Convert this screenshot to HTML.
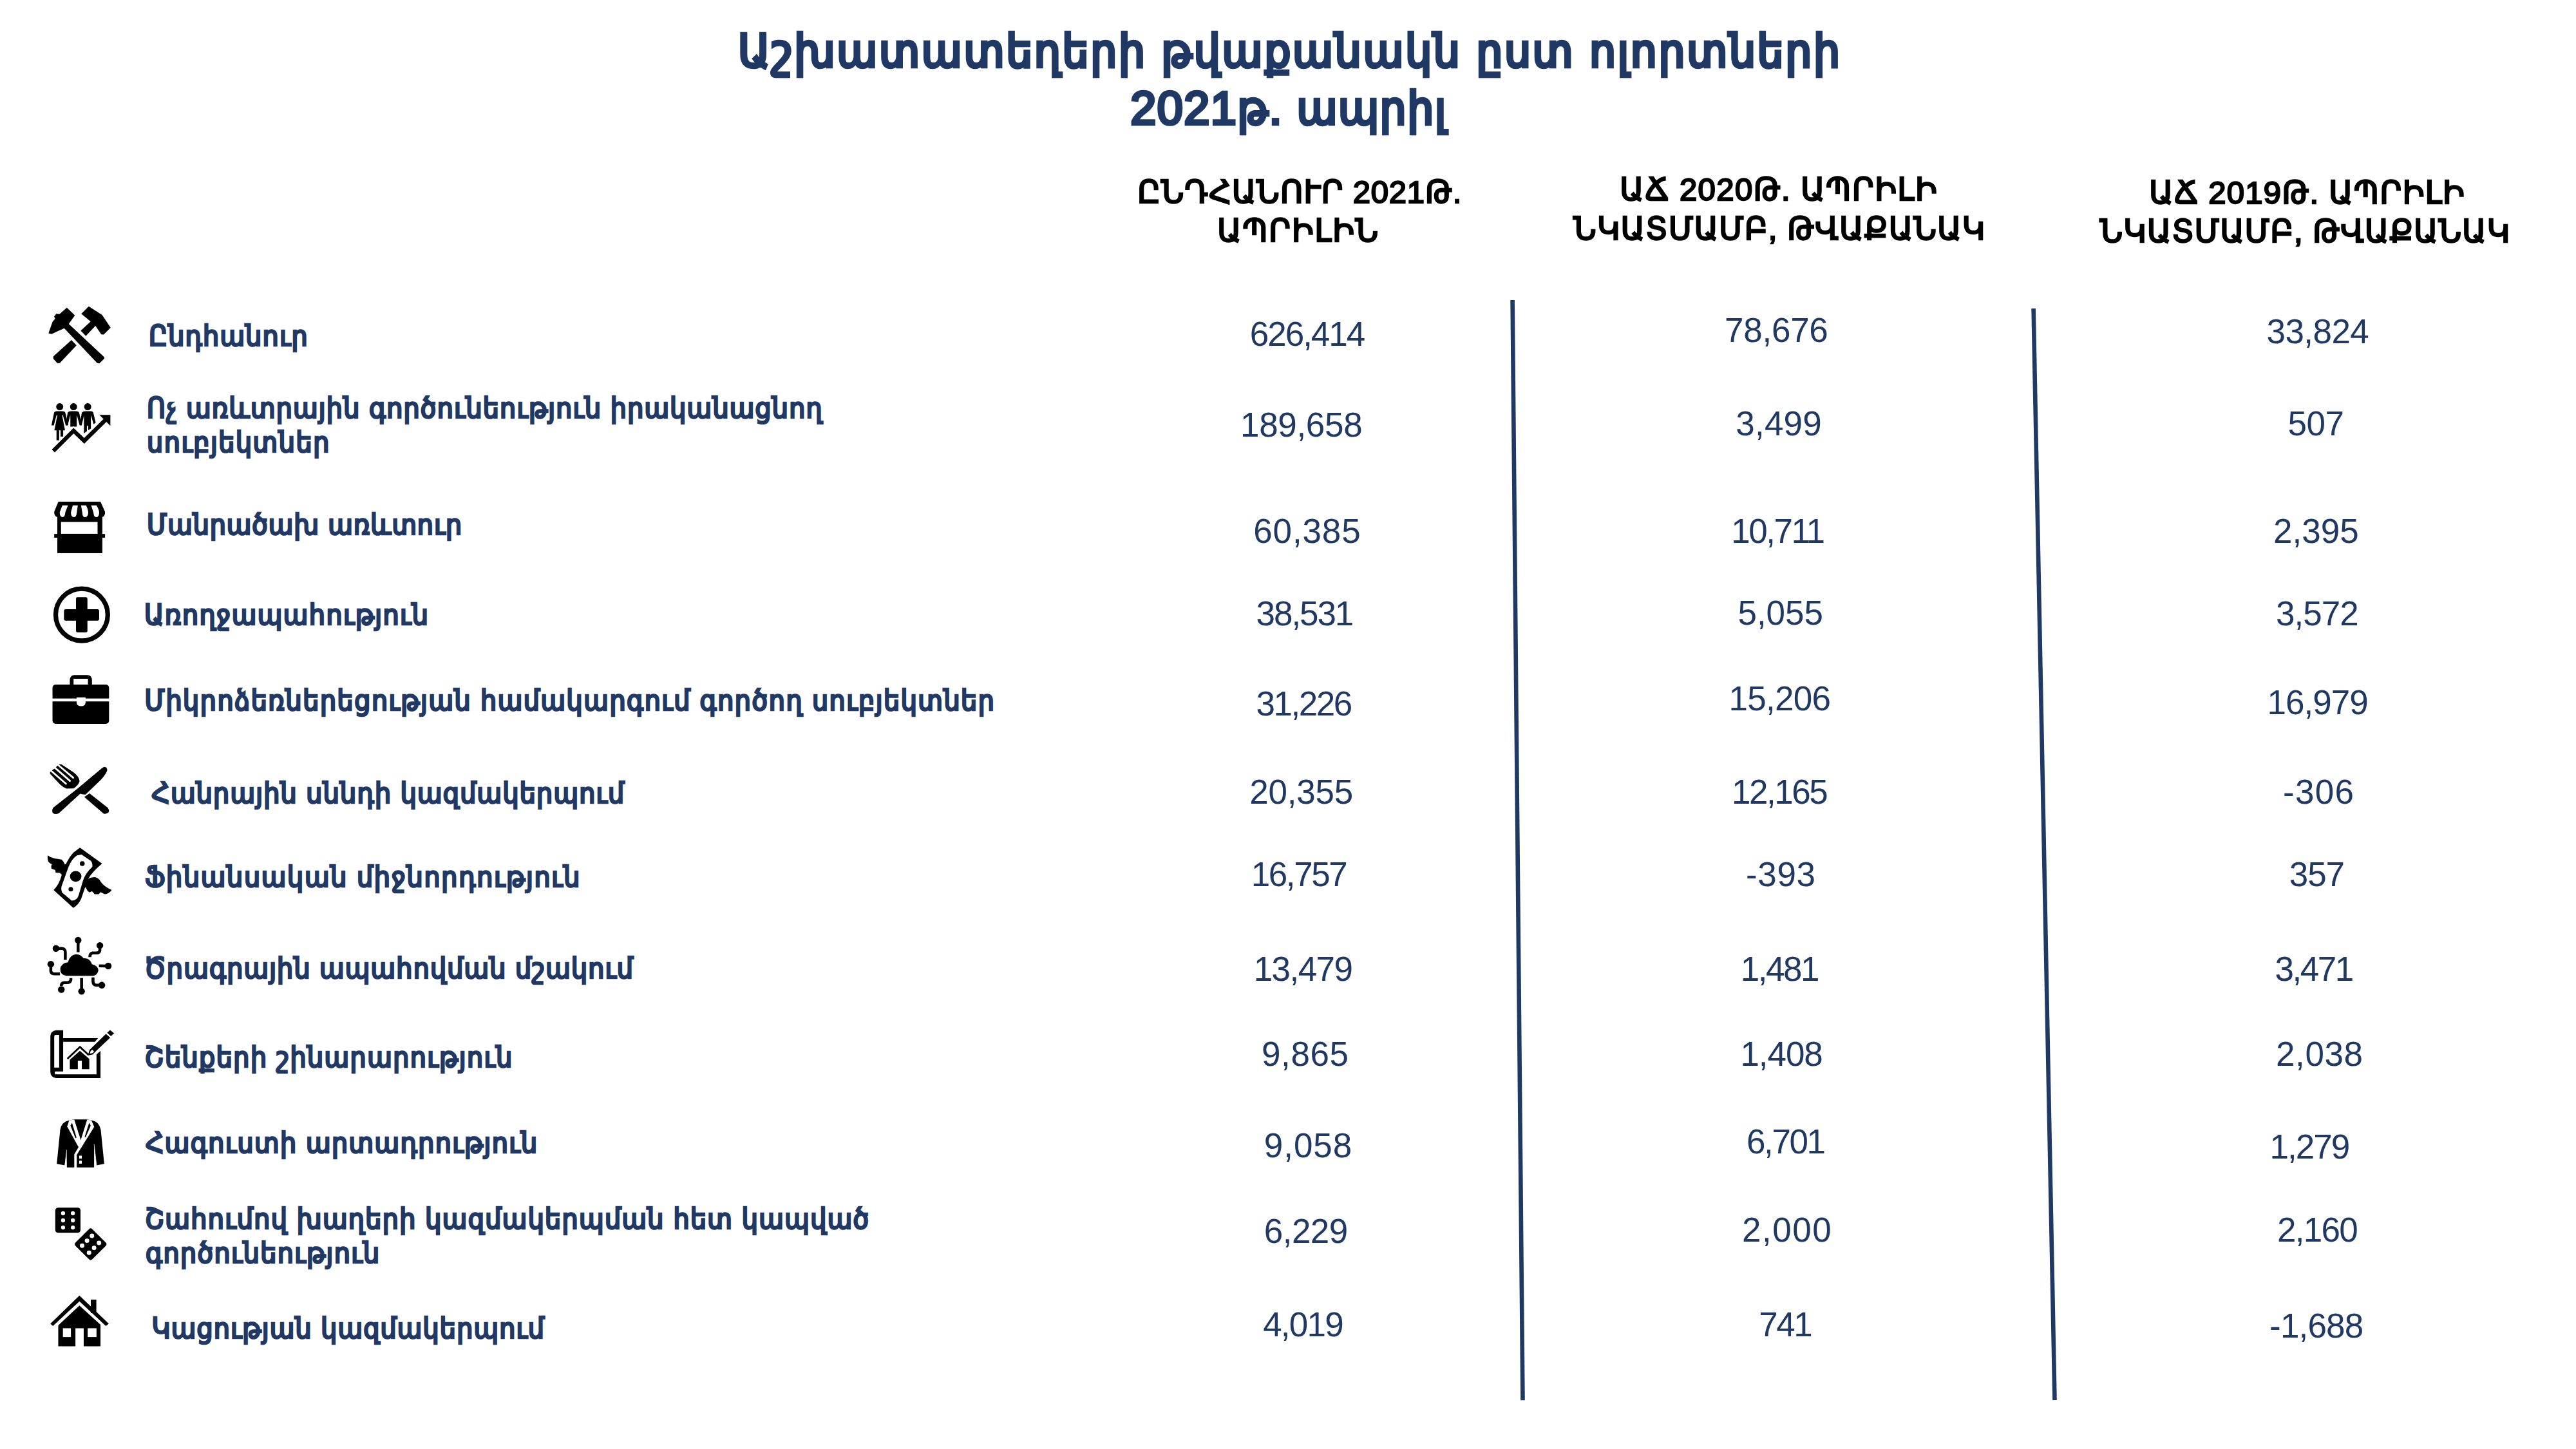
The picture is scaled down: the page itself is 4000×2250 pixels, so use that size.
<!DOCTYPE html>
<html lang="hy">
<head>
<meta charset="utf-8">
<title>Աշխատատեղերի թվաքանակն ըստ ոլորտների</title>
<style>
html,body{margin:0;padding:0;background:#fff}
body{width:4000px;height:2250px;position:relative;overflow:hidden;
 font-family:"Liberation Sans","DejaVu Sans",sans-serif}
.t{position:absolute;white-space:nowrap;margin:0;padding:0}
.title{font-family:"Liberation Sans","DejaVu Sans Condensed","DejaVu Sans",sans-serif;font-stretch:condensed;
 font-weight:normal;-webkit-text-stroke:4.6px #1f3864;font-size:72px;line-height:88px;color:#1f3864}
.lbl{font-family:"Liberation Sans","DejaVu Sans Condensed","DejaVu Sans",sans-serif;font-stretch:condensed;
 font-weight:normal;-webkit-text-stroke:2.7px #1f3864;font-size:44px;line-height:53px;color:#1f3864}
.hdr{font-weight:normal;-webkit-text-stroke:2.3px #000;font-size:49px;line-height:60px;color:#000}
.num{font-size:53px;line-height:60px;color:#1f3864}
svg{position:absolute;left:0;top:0}
</style>
</head>
<body>
<h1 class="t title" style="left:1146.0px;top:34.8px;letter-spacing:2.63px">Աշխատատեղերի թվաքանակն ըստ ոլորտների</h1>
<h2 class="t title" style="left:1755.2px;top:124.1px;letter-spacing:1.47px">2021թ. ապրիլ</h2>
<div class="t hdr" style="left:1766.0px;top:268.4px;letter-spacing:0.80px">ԸՆԴՀԱՆՈՒՐ 2021Թ.</div>
<div class="t hdr" style="left:1890.0px;top:327.9px;letter-spacing:1.67px">ԱՊՐԻԼԻՆ</div>
<div class="t hdr" style="left:2515.0px;top:263.9px;letter-spacing:1.40px">ԱՃ 2020Թ. ԱՊՐԻԼԻ</div>
<div class="t hdr" style="left:2442.9px;top:324.7px;letter-spacing:1.02px">ՆԿԱՏՄԱՄԲ, ԹՎԱՔԱՆԱԿ</div>
<div class="t hdr" style="left:3337.0px;top:268.8px;letter-spacing:1.20px">ԱՃ 2019Թ. ԱՊՐԻԼԻ</div>
<div class="t hdr" style="left:3260.4px;top:329.3px;letter-spacing:0.87px">ՆԿԱՏՄԱՄԲ, ԹՎԱՔԱՆԱԿ</div>
<div class="t lbl" style="left:231.0px;top:494.9px;letter-spacing:1.25px">Ընդհանուր</div>
<div class="t lbl" style="left:228.0px;top:607.4px;letter-spacing:1.23px">Ոչ առևտրային գործունեություն իրականացնող</div>
<div class="t lbl" style="left:228.0px;top:660.4px;letter-spacing:1.60px">սուբյեկտներ</div>
<div class="t lbl" style="left:228.0px;top:788.4px;letter-spacing:0.93px">Մանրածախ առևտուր</div>
<div class="t lbl" style="left:224.0px;top:928.2px;letter-spacing:1.47px">Առողջապահություն</div>
<div class="t lbl" style="left:224.5px;top:1060.9px;letter-spacing:1.57px">Միկրոձեռներեցության համակարգում գործող սուբյեկտներ</div>
<div class="t lbl" style="left:235.3px;top:1205.4px;letter-spacing:1.25px">Հանրային սննդի կազմակերպում</div>
<div class="t lbl" style="left:225.0px;top:1334.9px;letter-spacing:1.75px">Ֆինանսական միջնորդություն</div>
<div class="t lbl" style="left:223.5px;top:1476.9px;letter-spacing:1.19px">Ծրագրային ապահովման մշակում</div>
<div class="t lbl" style="left:224.5px;top:1614.6px;letter-spacing:1.48px">Շենքերի շինարարություն</div>
<div class="t lbl" style="left:226.0px;top:1747.9px;letter-spacing:1.43px">Հագուստի արտադրություն</div>
<div class="t lbl" style="left:225.0px;top:1865.9px;letter-spacing:1.37px">Շահումով խաղերի կազմակերպման հետ կապված</div>
<div class="t lbl" style="left:226.0px;top:1919.4px;letter-spacing:1.43px">գործունեություն</div>
<div class="t lbl" style="left:235.5px;top:2035.9px;letter-spacing:1.19px">Կացության կազմակերպում</div>
<div class="t num" style="left:1940.8px;top:489.4px;letter-spacing:-2.03px">626,414</div>
<div class="t num" style="left:2678.1px;top:482.9px;letter-spacing:-0.28px">78,676</div>
<div class="t num" style="left:3519.5px;top:485.3px;letter-spacing:-0.56px">33,824</div>
<div class="t num" style="left:1926.0px;top:629.6px;letter-spacing:-0.33px">189,658</div>
<div class="t num" style="left:2695.3px;top:628.0px;letter-spacing:0.20px">3,499</div>
<div class="t num" style="left:3552.5px;top:628.0px;letter-spacing:-0.50px">507</div>
<div class="t num" style="left:1946.2px;top:795.1px;letter-spacing:0.88px">60,385</div>
<div class="t num" style="left:2688.3px;top:795.1px;letter-spacing:-2.50px">10,711</div>
<div class="t num" style="left:3530.0px;top:795.1px">2,395</div>
<div class="t num" style="left:1950.6px;top:923.1px;letter-spacing:-2.08px">38,531</div>
<div class="t num" style="left:2698.5px;top:921.5px;letter-spacing:-0.05px">5,055</div>
<div class="t num" style="left:3534.0px;top:923.1px;letter-spacing:-1.00px">3,572</div>
<div class="t num" style="left:1950.5px;top:1063.3px;letter-spacing:-2.50px">31,226</div>
<div class="t num" style="left:2684.4px;top:1055.2px;letter-spacing:-0.72px">15,206</div>
<div class="t num" style="left:3520.5px;top:1060.9px;letter-spacing:-1.00px">16,979</div>
<div class="t num" style="left:1940.3px;top:1199.5px;letter-spacing:-0.24px">20,355</div>
<div class="t num" style="left:2689.0px;top:1199.5px;letter-spacing:-2.50px">12,165</div>
<div class="t num" style="left:3545.0px;top:1199.5px;letter-spacing:1.33px">-306</div>
<div class="t num" style="left:1942.8px;top:1327.5px;letter-spacing:-2.44px">16,757</div>
<div class="t num" style="left:2711.0px;top:1327.5px;letter-spacing:0.67px">-393</div>
<div class="t num" style="left:3554.8px;top:1327.5px;letter-spacing:-1.10px">357</div>
<div class="t num" style="left:1946.7px;top:1475.0px;letter-spacing:-1.56px">13,479</div>
<div class="t num" style="left:2702.8px;top:1475.0px;letter-spacing:-2.50px">1,481</div>
<div class="t num" style="left:3532.5px;top:1475.0px;letter-spacing:-2.50px">3,471</div>
<div class="t num" style="left:1959.0px;top:1607.0px;letter-spacing:0.60px">9,865</div>
<div class="t num" style="left:2702.4px;top:1607.0px;letter-spacing:-1.05px">1,408</div>
<div class="t num" style="left:3534.0px;top:1607.0px;letter-spacing:0.60px">2,038</div>
<div class="t num" style="left:1962.8px;top:1748.9px;letter-spacing:0.95px">9,058</div>
<div class="t num" style="left:2712.0px;top:1743.2px;letter-spacing:-2.40px">6,701</div>
<div class="t num" style="left:3524.5px;top:1751.3px;letter-spacing:-1.95px">1,279</div>
<div class="t num" style="left:1962.8px;top:1881.6px;letter-spacing:-0.55px">6,229</div>
<div class="t num" style="left:2705.1px;top:1880.1px;letter-spacing:1.50px">2,000</div>
<div class="t num" style="left:3536.1px;top:1880.1px;letter-spacing:-1.75px">2,160</div>
<div class="t num" style="left:1961.2px;top:2026.9px;letter-spacing:-1.80px">4,019</div>
<div class="t num" style="left:2731.2px;top:2026.9px;letter-spacing:-2.50px">741</div>
<div class="t num" style="left:3524.1px;top:2028.5px;letter-spacing:-0.84px">-1,688</div>
<svg width="4000" height="2250" viewBox="0 0 4000 2250">
<line x1="2348.6" y1="466" x2="2364.5" y2="2174.3" stroke="#1f3864" stroke-width="6.6"/>
<line x1="3157.6" y1="479" x2="3190.5" y2="2174" stroke="#1f3864" stroke-width="6.6"/>
<!-- icon 1: crossed hammers -->
<g transform="translate(60,460) scale(0.0828)" fill="#000">
<path d="M530,215 L680,360 L565,520 L1230,1140 L1230,1170 L1140,1260 L1100,1255 L480,600 L240,710 L185,695 L260,480 L310,420 L290,380 L330,330 L390,335 Z"/>
<path d="M940,190 L1190,350 L1350,590 L1220,720 L1175,715 L1065,555 L885,745 L790,645 L975,475 L800,330 Z"/>
<path d="M615,820 L710,920 L400,1250 L355,1258 L275,1170 L275,1130 Z"/>
</g>
<!-- icon 2: people with growth arrow -->
<g transform="translate(60,610) scale(0.0828)" fill="#000">
<circle cx="395" cy="260" r="66"/><circle cx="655" cy="260" r="66"/><circle cx="920" cy="260" r="66"/>
<path d="M290,370 Q300,345 340,345 L450,345 Q490,345 500,370 L555,600 L510,615 L455,420 L440,420 L495,705 L295,705 L350,420 L335,420 L285,610 L240,610 Z"/>
<rect x="335" y="700" width="50" height="190"/><rect x="410" y="700" width="50" height="120"/>
<path d="M545,370 Q560,345 600,345 L710,345 Q745,345 760,370 L810,600 L770,612 L720,430 L715,430 L715,635 L595,635 L595,430 L590,430 L545,612 L505,600 Z"/>
<path d="M810,370 Q835,345 870,345 L980,345 Q1015,345 1025,370 L1070,560 L1030,590 L985,430 L980,430 L980,670 L930,700 L930,620 L905,620 L905,720 L850,760 L850,430 L805,612 L770,600 Z"/>
<path d="M275,1090 L655,710 L855,900 L1260,500" fill="none" stroke="#fff" stroke-width="120"/>
<path d="M275,1090 L655,710 L855,900 L1260,500" fill="none" stroke="#000" stroke-width="76"/>
<path d="M1140,415 L1345,415 L1345,620 Z"/>
</g>
<!-- icon 3: market stall -->
<g transform="translate(60,760) scale(0.0828)" fill="#000">
<path d="M370,230 L1160,230 L1245,420 Q1250,500 1190,520 L350,520 Q290,500 292,420 Z"/>
<rect x="350" y="515" width="845" height="680"/>
<rect x="292" y="835" width="953" height="70"/>
<g fill="#fff">
<path d="M445,300 L550,300 L500,430 Q495,520 450,520 Q395,520 395,430 Z"/>
<path d="M640,300 L735,300 L715,440 Q710,520 660,520 Q605,520 605,430 Z"/>
<path d="M795,300 L890,300 Q930,380 930,440 Q925,520 870,520 Q820,520 820,440 Z"/>
<path d="M985,300 L1085,300 Q1135,380 1135,440 Q1130,520 1085,520 Q1030,520 1030,440 Z"/>
<rect x="420" y="610" width="685" height="222"/>
</g>
</g>
<!-- icon 4: medical cross -->
<g transform="translate(60,890) scale(0.0828)" fill="#000">
<circle cx="808" cy="780" r="488" fill="none" stroke="#000" stroke-width="88"/>
<rect x="700" y="450" width="215" height="660" rx="32"/>
<rect x="475" y="675" width="660" height="215" rx="32"/>
</g>
<!-- icon 5: briefcase -->
<g transform="translate(60,1025) scale(0.0828)" fill="#000">
<path d="M585,470 L585,370 Q590,285 670,280 L915,280 Q995,285 1000,370 L1000,470 L925,470 L925,350 L655,350 L655,470 Z"/>
<rect x="260" y="460" width="1060" height="735" rx="60"/>
<rect x="250" y="720" width="1080" height="55" fill="#fff"/>
<path d="M712,700 L880,700 L880,800 Q870,865 800,865 Q720,865 712,800 Z" fill="#fff"/>
</g>
<!-- icon 6: fork and knife -->
<g transform="translate(60,1165) scale(0.0828)" fill="#000">
<path d="M390,262 L430,265 L650,410 Q760,490 768,580 Q750,650 660,715 L520,718 Q450,690 400,640 L215,440 L215,412 L250,380 L262,368 L320,325 L335,308 Z"/>
<path d="M225,378 L512,628 M298,322 L588,575 M360,272 L648,515" stroke="#fff" stroke-width="34" stroke-linecap="round" fill="none"/>
<path d="M955,810 L1300,1080 Q1330,1120 1315,1160 Q1280,1200 1220,1190 L855,875 Z"/>
<path d="M1240,310 Q1290,320 1285,380 Q1250,480 1100,620 L880,830 Q830,830 780,815 L380,1180 Q320,1210 270,1180 Q235,1130 275,1075 L730,720 L1180,340 Q1210,315 1240,310 Z" stroke="#fff" stroke-width="40"/>
<path d="M1240,310 Q1290,320 1285,380 Q1250,480 1100,620 L880,830 Q830,830 780,815 L380,1180 Q320,1210 270,1180 Q235,1130 275,1075 L730,720 L1180,340 Q1210,315 1240,310 Z"/>
</g>
<!-- icon 7: flying money -->
<g transform="translate(60,1300) scale(0.0828)" fill="#000">
<path d="M170,340 Q220,380 300,400 L430,420 Q480,460 490,510 L520,500 L520,700 L440,710 L400,670 L320,665 L310,615 L240,590 L235,540 L250,510 L190,470 Q160,420 170,340 Z"/>
<path d="M920,790 Q980,750 1060,750 Q1130,770 1160,830 Q1230,930 1370,990 Q1320,1060 1240,1070 L1160,1030 L1130,1070 L1050,1070 L1000,1010 L960,1035 L920,1010 L880,940 L850,950 L850,850 Z"/>
<path d="M775,195 L1190,495 Q1000,650 920,800 Q850,1000 800,1150 Q740,1280 650,1325 L280,990 Q380,900 430,720 Q520,430 650,290 Z"/>
<path d="M805,325 L980,445 Q1020,500 1005,560 Q880,670 830,820 L750,1090 Q720,1190 620,1190 L440,1040 Q410,960 440,890 L560,560 Q620,400 720,340 Z" fill="#fff"/>
<ellipse cx="695" cy="735" rx="108" ry="100"/>
<circle cx="818" cy="495" r="46"/><circle cx="603" cy="975" r="43"/>
</g>
<!-- icon 8: cloud network -->
<g transform="translate(60,1440) scale(0.0828)" fill="#000">
<path d="M520,910 Q400,890 405,780 Q420,670 550,655 Q580,520 700,505 Q800,510 840,580 Q960,570 1000,690 Q1120,720 1120,810 Q1100,900 1020,910 Z"/>
<g fill="none" stroke="#000" stroke-width="55">
<path d="M740,290 L740,465"/>
<path d="M1148,390 L1148,430 Q1140,480 1090,480 L1010,480 Q960,490 960,560"/>
<path d="M1130,722 L1260,725"/>
<path d="M1020,940 L1020,1020 Q1025,1080 1080,1085 L1140,1085"/>
<path d="M805,950 L805,1150"/>
<path d="M605,950 L605,980 Q595,1035 540,1035 L480,1035 Q425,1040 425,1100"/>
<path d="M228,740 L228,820 Q235,870 290,872 L400,872"/>
<path d="M375,395 L440,395 Q495,400 500,460 L500,610"/>
</g>
<circle cx="740" cy="240" r="63"/><circle cx="1148" cy="340" r="63"/><circle cx="1305" cy="725" r="63"/><circle cx="1185" cy="1085" r="63"/>
<circle cx="805" cy="1200" r="63"/><circle cx="425" cy="1165" r="63"/><circle cx="228" cy="690" r="63"/><circle cx="325" cy="395" r="63"/>
</g>
<!-- icon 9: blueprint -->
<g transform="translate(60,1580) scale(0.0828)" fill="#000">
<path d="M330,240 L460,240 L460,1010 L310,1010 Q290,1040 315,1065 L1085,1065 L1085,690 L1160,625 L1160,1135 L330,1135 Q220,1120 220,1020 L220,350 Q225,250 330,240 Z"/>
<path d="M292,350 Q295,325 320,325 L385,325 L385,940 L292,940 Z" fill="#fff"/>
<path d="M460,385 L1115,385 L1055,455 L460,455 Z"/>
<path d="M585,970 L585,790 L775,625 L950,775 L950,970 L810,970 L810,810 L735,810 L735,970 Z"/>
<path d="M540,772 L775,553 L935,700" fill="none" stroke="#000" stroke-width="34"/>
<path d="M1262,308 L1342,378 L1040,665 L1020,690 L922,712 L955,608 Z"/>
<path d="M975,625 L1010,605 L1040,640 L1010,668 L962,675 Z" fill="#fff"/>
<path d="M1340,235 L1415,295 L1355,350 L1285,285 Z"/>
</g>
<!-- icon 10: jacket -->
<g transform="translate(60,1715) scale(0.0828)" fill="#000">
<path d="M570,300 Q430,330 405,470 L340,1115 L490,1140 L525,870 L530,1180 L1040,1180 L1040,760 L1085,1140 L1230,1115 L1165,470 Q1130,320 1000,300 L910,280 L665,280 Z"/>
<g fill="#fff">
<path d="M572,298 L668,283 L792,672 L770,800 L745,795 L535,415 Z"/>
<path d="M990,298 L1042,420 L715,945 L715,1185 L668,1185 L668,935 L748,800 L770,770 L788,672 L910,283 Z"/>
<rect x="760" y="960" width="50" height="55"/><rect x="760" y="1055" width="50" height="55"/>
</g>
<path d="M596,395 L626,343 L710,618 L692,634 Z"/>
<path d="M977,395 L947,343 L864,605 L880,620 Z"/>
<path d="M527,850 L492,1145 M1040,740 L1086,1145" fill="none" stroke="#fff" stroke-width="9"/>
</g>
<!-- icon 11: dice -->
<g transform="translate(60,1855) scale(0.0828)" fill="#000">
<rect x="312" y="245" width="473" height="470" rx="52"/>
<g fill="#fff"><circle cx="458" cy="350" r="38"/><circle cx="642" cy="350" r="38"/><circle cx="458" cy="483" r="38"/><circle cx="642" cy="483" r="38"/><circle cx="458" cy="617" r="38"/><circle cx="642" cy="617" r="38"/></g>
<rect x="-222" y="-222" width="444" height="444" rx="45" transform="translate(975,930) rotate(45)"/>
<g fill="#fff"><circle cx="1000" cy="772" r="42"/><circle cx="907" cy="865" r="42"/><circle cx="815" cy="958" r="42"/><circle cx="1132" cy="905" r="42"/><circle cx="1040" cy="998" r="42"/><circle cx="945" cy="1090" r="42"/></g>
</g>
<!-- icon 12: house -->
<g transform="translate(60,1990) scale(0.0828)" fill="#000">
<path d="M220,790 L765,262 L1315,790 L1260,832 L765,370 L268,832 Z"/>
<rect x="978" y="340" width="104" height="250"/>
<path d="M368,820 L765,450 L1160,810 L1160,1215 L845,1215 L845,875 L690,875 L690,1215 L368,1215 Z"/>
<rect x="455" y="875" width="150" height="165" fill="#fff"/><rect x="920" y="875" width="165" height="165" fill="#fff"/>
</g>
</svg>
</body>
</html>
